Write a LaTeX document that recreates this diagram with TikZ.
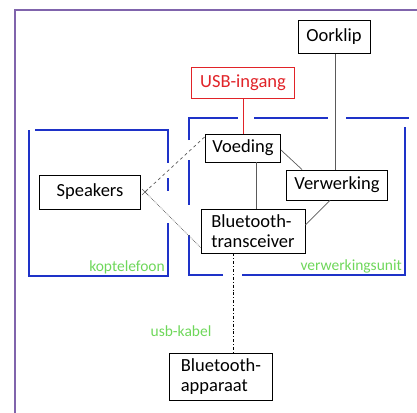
\documentclass[tikz,border=0pt]{standalone}
\usepackage{fontspec}
\setmainfont{Carlito}
\usetikzlibrary{calc}
\definecolor{framepurple}{RGB}{128,100,172}
\definecolor{unitblue}{RGB}{30,50,200}
\definecolor{lblgreen}{RGB}{110,215,90}
\definecolor{usbred}{RGB}{225,35,40}
\definecolor{linegray}{RGB}{90,90,90}
\begin{document}
\begin{tikzpicture}[x=1pt,y=-1pt,
  box/.style={draw=black,line width=0.9pt,fill=white,inner sep=1pt,font=\fontsize{18.5}{20}\selectfont,align=left},
  unitline/.style={draw=unitblue,line width=1.6pt},
  glabel/.style={text=lblgreen,font=\fontsize{15.5}{16}\selectfont,inner sep=0pt},
  conn/.style={draw=linegray,line width=0.7pt}]
\useasboundingbox (0,0) rectangle (417,412);
% outer frame
\draw[framepurple,line width=1.5pt] (15,420) -- (15,10) -- (425,10);
% koptelefoon box
\draw[unitline] (29,130) -- (29,276) -- (168,276) -- (168,223);
\draw[unitline] (35,130) -- (168,130) -- (168,163);
\draw[unitline] (168,178) -- (168,191);
% verwerkingsunit box
\draw[unitline] (189,140) -- (189,118) -- (238,118);
\draw[unitline] (254,118) -- (328,118);
\draw[unitline] (346,118) -- (409,118);
\draw[unitline] (405,127) -- (405,275) -- (242,275);
\draw[unitline] (223,275) -- (189,275) -- (189,235);
\draw[unitline] (189,160) -- (189,205);
% nodes
\node[box,minimum width=72pt,minimum height=33pt] (oor) at (334,37) {Oorklip};
\node[box,draw=usbred,text=usbred,minimum width=103pt,minimum height=31pt] (usb) at (243,83) {USB-ingang};
\node[box,minimum width=75pt,minimum height=28pt] (voe) at (243,148) {Voeding};
\node[box,minimum width=101pt,minimum height=30pt] (ver) at (337,185) {Verwerking};
\node[box,minimum width=104pt,minimum height=44pt] (bt) at (253,231) {Bluetooth-\\transceiver};
\node[box,minimum width=101pt,minimum height=34pt] (spk) at (90,192) {Speakers};
\node[box,minimum width=103pt,minimum height=47pt] (bta) at (221,377) {Bluetooth-\\apparaat};
% labels
\node[glabel,anchor=south east] (lkop) at (165,274) {koptelefoon};
\node[glabel,anchor=south east] (lver) at (402,273) {verwerkingsunit};
\node[glabel] (lusb) at (181,331) {usb-kabel};
% connectors
\coordinate (x) at (145,192);
\draw[line width=0.6pt,linegray] ($(x)+(-3,-3)$) -- ($(x)+(3,3)$) ($(x)+(-3,3)$) -- ($(x)+(3,-3)$);
\draw[usbred,line width=0.8pt] (usb.south) -- (voe.north);
\draw[conn] (oor.south -| 335,0) -- (ver.north -| 335,0);
\draw[conn] ([yshift=-2pt]voe.east) -- ([xshift=16pt]ver.north west);
\draw[conn] (voe.south -| 256,0) -- (bt.north -| 256,0);
\draw[conn] (ver.south -| 330,0) -- ([yshift=6pt]bt.east);
\draw[conn,dashed] (x) -- ([yshift=-3pt]voe.north west);
\draw[conn,densely dotted] (x) -- ([yshift=6pt]bt.south west);
\draw[black,line width=0.8pt,dash dot] (bt.south -| 233,0) -- (bta.north -| 233,0);
\end{tikzpicture}
\end{document}
